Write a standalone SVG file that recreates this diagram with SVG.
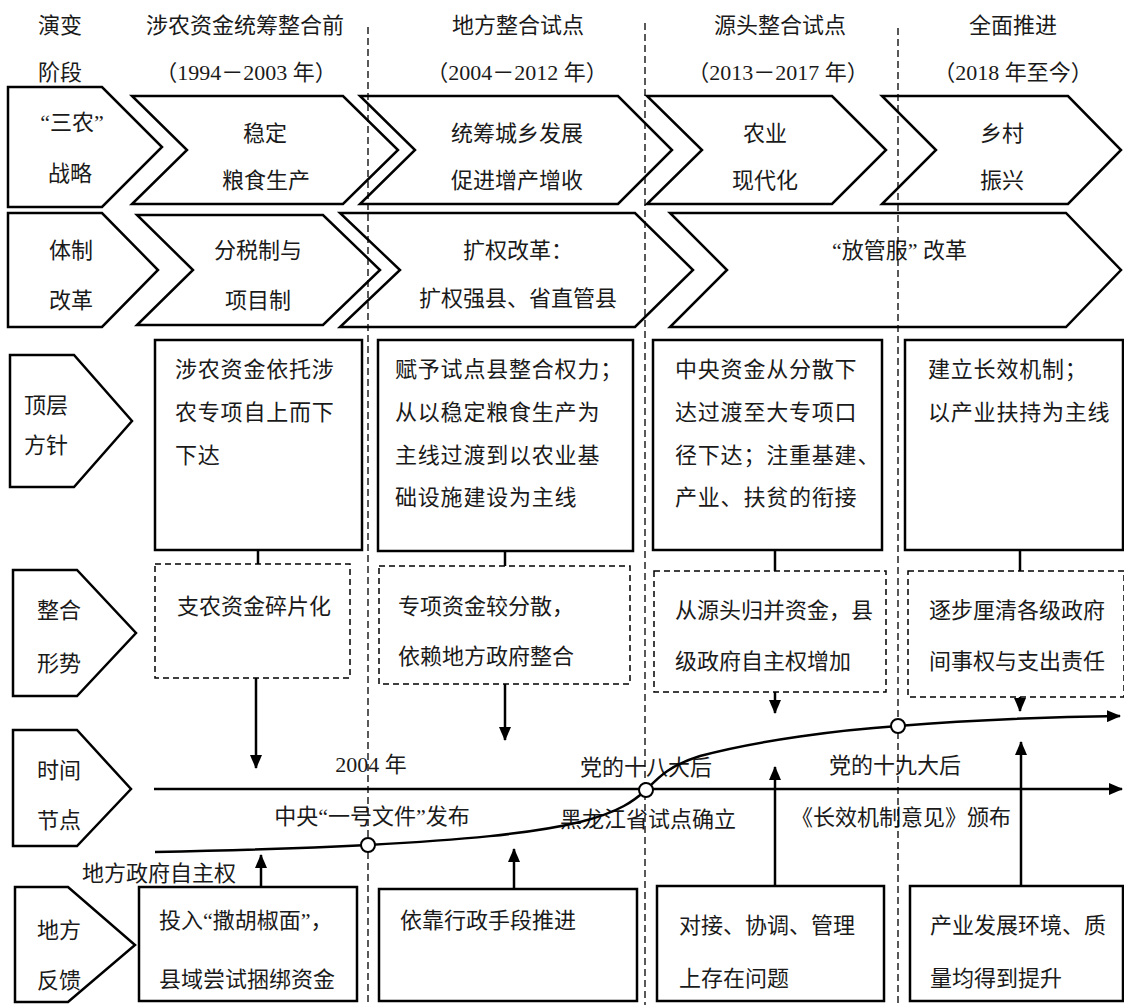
<svg xmlns="http://www.w3.org/2000/svg" width="1124" height="1005" viewBox="0 0 1124 1005">
<style>
text{font-family:"Liberation Serif","Noto Sans CJK SC",serif;font-size:22px;fill:#1a1a1a;dominant-baseline:central}
.c{text-anchor:middle}
.ls{letter-spacing:0.8px}
.shape{fill:#fff;stroke:#000;stroke-width:2.5;stroke-linejoin:miter}
.box{fill:#fff;stroke:#000;stroke-width:2.5}
.dbox{fill:#fff;stroke:#000;stroke-width:1.5;stroke-dasharray:6 4}
.vd{fill:none;stroke:#000;stroke-width:1.3;stroke-dasharray:7 4}
.ln{fill:none;stroke:#000;stroke-width:2.5}
.ar{fill:none;stroke:#000;stroke-width:2.5;marker-end:url(#ah)}
.circ{fill:#fff;stroke:#000;stroke-width:2}
</style>
<defs>
<marker id="ah" viewBox="0 0 14 12" refX="13" refY="6" markerWidth="14" markerHeight="12" markerUnits="userSpaceOnUse" orient="auto">
<path d="M0,0 L14,6 L0,12 z" fill="#000"/>
</marker>
</defs>
<rect width="1124" height="1005" fill="#fff"/>

<g id="header">
<text class="c" x="60" y="25">演变</text>
<text class="c" x="60" y="72">阶段</text>
<text class="c" x="245" y="25">涉农资金统筹整合前</text>
<text class="c" x="246" y="72">（1994－2003 年）</text>
<text class="c" x="518" y="25">地方整合试点</text>
<text class="c" x="517" y="72">（2004－2012 年）</text>
<text class="c" x="780" y="25">源头整合试点</text>
<text class="c" x="778" y="72">（2013－2017 年）</text>
<text class="c" x="1013" y="25">全面推进</text>
<text class="c" x="1013" y="72">（2018 年至今）</text>
</g>

<g id="label-sannong">
<polygon class="shape" points="8,87 102,87 162,147 102,207 8,207"/>
<text class="c" x="72" y="122">“三农”</text>
<text class="c" x="70" y="173">战略</text>
</g>
<g id="label-tizhi">
<polygon class="shape" points="8,213 102,213 158,270 102,327 8,327"/>
<text class="c" x="71" y="250">体制</text>
<text class="c" x="71" y="300">改革</text>
</g>
<g id="label-dingceng">
<polygon class="shape" points="10,355 74,355 132,421 74,487 10,487"/>
<text class="c" x="46" y="405">顶层</text>
<text class="c" x="46" y="445">方针</text>
</g>
<g id="label-zhenghe">
<polygon class="shape" points="13,570 77,570 136,633 77,696 13,696"/>
<text class="c" x="59" y="610">整合</text>
<text class="c" x="59" y="663">形势</text>
</g>
<g id="label-shijian">
<polygon class="shape" points="13,730 77,730 131,789 77,846 13,846"/>
<text class="c" x="59" y="770">时间</text>
<text class="c" x="59" y="820">节点</text>
</g>
<g id="label-fankui">
<polygon class="shape" points="15,887 68,887 135,945 68,1002 15,1002"/>
<text class="c" x="59" y="930">地方</text>
<text class="c" x="59" y="980">反馈</text>
</g>

<g id="s1">
<polygon class="shape" points="132,96 343,96 398,150 343,204 132,204 187,150"/>
<text class="c" x="265" y="133">稳定</text>
<text class="c" x="266" y="180">粮食生产</text>
</g>
<g id="s2">
<polygon class="shape" points="360,96 618,96 672,150 618,204 360,204 415,150"/>
<text class="c" x="517" y="133">统筹城乡发展</text>
<text class="c" x="517" y="180">促进增产增收</text>
</g>
<g id="s3">
<polygon class="shape" points="647,96 832,96 886,150 832,204 647,204 702,150"/>
<text class="c" x="765" y="133">农业</text>
<text class="c" x="765" y="180">现代化</text>
</g>
<g id="s4">
<polygon class="shape" points="882,96 1068,96 1121,150 1068,204 882,204 936,150"/>
<text class="c" x="1002" y="133">乡村</text>
<text class="c" x="1002" y="180">振兴</text>
</g>

<g id="r1">
<polygon class="shape" points="137,215 323,215 380,270 323,325 137,325 193,270"/>
<text class="c" x="258" y="250">分税制与</text>
<text class="c" x="258" y="300">项目制</text>
</g>
<g id="r2">
<polygon class="shape" points="340,213 635,213 693,270 635,327 340,327 400,270"/>
<text x="463" y="250">扩权改革：</text>
<text class="c" x="518" y="298">扩权强县、省直管县</text>
</g>
<g id="r3">
<polygon class="shape" points="670,213 1066,213 1121,270 1066,327 670,327 727,270"/>
<text x="832" y="250">“放管服” 改革</text>
</g>

<g id="t1">
<rect class="box" x="155" y="340" width="207" height="210"/>
<text class="ls" x="175" y="369">涉农资金依托涉</text>
<text class="ls" x="175" y="412">农专项自上而下</text>
<text class="ls" x="175" y="455">下达</text>
</g>
<g id="t2">
<rect class="box" x="378" y="340" width="255" height="211"/>
<text class="ls" x="395" y="369">赋予试点县整合权力；</text>
<text class="ls" x="395" y="412">从以稳定粮食生产为</text>
<text class="ls" x="395" y="455">主线过渡到以农业基</text>
<text class="ls" x="395" y="497">础设施建设为主线</text>
</g>
<g id="t3">
<rect class="box" x="653" y="340" width="229" height="210"/>
<text class="ls" x="675" y="369">中央资金从分散下</text>
<text class="ls" x="675" y="412">达过渡至大专项口</text>
<text class="ls" x="675" y="455">径下达；注重基建、</text>
<text class="ls" x="675" y="497">产业、扶贫的衔接</text>
</g>
<g id="t4">
<rect class="box" x="905" y="340" width="218" height="210"/>
<text class="ls" x="928" y="369">建立长效机制；</text>
<text class="ls" x="928" y="412">以产业扶持为主线</text>
</g>

<g id="z1">
<rect class="dbox" x="155" y="564" width="195" height="114"/>
<text x="177" y="606">支农资金碎片化</text>
</g>
<g id="z2">
<rect class="dbox" x="379" y="566" width="251" height="118"/>
<text x="398" y="606">专项资金较分散，</text>
<text x="398" y="656">依赖地方政府整合</text>
</g>
<g id="z3">
<rect class="dbox" x="654" y="571" width="232" height="121"/>
<text x="675" y="610">从源头归并资金，县</text>
<text x="675" y="661">级政府自主权增加</text>
</g>
<g id="z4">
<rect class="dbox" x="908" y="571" width="216" height="126"/>
<text x="929" y="610">逐步厘清各级政府</text>
<text x="929" y="661">间事权与支出责任</text>
</g>

<g id="f1">
<rect class="box" x="139" y="887" width="218" height="114"/>
<text x="159" y="920">投入“撒胡椒面”，</text>
<text x="159" y="979">县域尝试捆绑资金</text>
</g>
<g id="f2">
<rect class="box" x="379" y="889" width="258" height="112"/>
<text x="400" y="920">依靠行政手段推进</text>
</g>
<g id="f3">
<rect class="box" x="657" y="886" width="227" height="115"/>
<text x="679" y="925">对接、协调、管理</text>
<text x="679" y="978">上存在问题</text>
</g>
<g id="f4">
<rect class="box" x="910" y="886" width="213" height="115"/>
<text x="930" y="925">产业发展环境、质</text>
<text x="930" y="978">量均得到提升</text>
</g>

<g id="timeline-labels">
<text class="c" x="371" y="764">2004 年</text>
<text class="c" x="372" y="816">中央“一号文件”发布</text>
<text class="c" x="646" y="767">党的十八大后</text>
<text class="c" x="648" y="819">黑龙江省试点确立</text>
<text class="c" x="895" y="765">党的十九大后</text>
<text class="c" x="901" y="817">《长效机制意见》颁布</text>
<text x="82" y="873">地方政府自主权</text>
</g>

<g id="connectors">
<line class="ln" x1="258" y1="550" x2="258" y2="564"/>
<line class="ln" x1="505" y1="551" x2="505" y2="566"/>
<line class="ln" x1="775" y1="550" x2="775" y2="571"/>
<line class="ln" x1="1020" y1="550" x2="1020" y2="571"/>
<line class="ar" x1="256" y1="678" x2="256" y2="768"/>
<line class="ar" x1="505" y1="684" x2="505" y2="740"/>
<line class="ar" x1="775" y1="692" x2="775" y2="713"/>
<line class="ar" x1="1020" y1="697" x2="1020" y2="711"/>
<line class="ar" x1="261" y1="887" x2="261" y2="855"/>
<line class="ar" x1="514" y1="889" x2="514" y2="849"/>
<line class="ar" x1="775" y1="886" x2="775" y2="767"/>
<line class="ar" x1="1021" y1="886" x2="1021" y2="742"/>
<line class="ar" x1="154" y1="789" x2="1122" y2="789"/>
<path class="ar" d="M155,852 C260,850 330,847 368,845 C460,840 530,834 580,822 C620,812 635,800 646,790 C658,778 668,766 700,756 C760,740 840,730 898,726 C960,721 1040,717 1120,716"/>
</g>

<g id="dividers">
<line class="vd" x1="368" y1="27" x2="368" y2="1005"/>
<line class="vd" x1="645" y1="23" x2="645" y2="1005"/>
<line class="vd" x1="898" y1="28" x2="898" y2="1005"/>
</g>

<g id="milestones">
<circle class="circ" cx="368" cy="845" r="7"/>
<circle class="circ" cx="646" cy="790" r="7"/>
<circle class="circ" cx="898" cy="726" r="7"/>
</g>
</svg>
